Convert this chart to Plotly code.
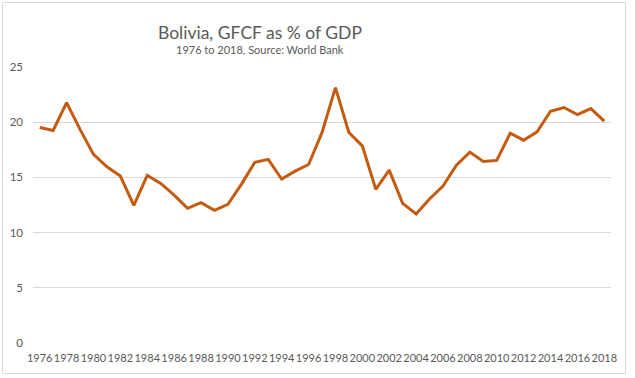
import plotly.graph_objects as go

years = list(range(1976, 2019))
gfcf_pct_gdp = [19.52, 19.25, 21.78, 19.35, 17.08, 15.96, 15.12, 12.47, 15.18, 14.46,
                13.40, 12.20, 12.71, 12.02, 12.56, 14.37, 16.36, 16.63, 14.85, 15.57,
                16.17, 19.05, 23.13, 19.07, 17.86, 13.92, 15.66, 12.65, 11.69, 13.04,
                14.22, 16.11, 17.29, 16.45, 16.54, 19.00, 18.37, 19.13, 20.99, 21.33,
                20.69, 21.23, 20.09]
x_tick_labels = [str(y) for y in range(1976, 2019, 2)]
y_tick_values = [0, 5, 10, 15, 20, 25]

title_text = "Bolivia, GFCF as % of GDP"
subtitle_text = "1976 to 2018, Source: World Bank"

FONT = "Lato"
W, H = 635, 378
ML, MR, MT, MB = 33, 24, 67, 35
pw, ph = W - ML - MR, H - MT - MB

fig = go.Figure()
fig.add_trace(go.Scatter(
    x=years, y=gfcf_pct_gdp, mode="lines",
    line=dict(color="#C55A11", width=3),
    hoverinfo="x+y", showlegend=False,
))

def px_to_paper_x(px):
    return (px - ML) / pw

def px_to_paper_y(py):
    return (H - MB - py) / ph

fig.update_layout(
    width=W, height=H,
    margin=dict(l=ML, r=MR, t=MT, b=MB, pad=0),
    paper_bgcolor="white", plot_bgcolor="white",
    font=dict(family=FONT, color="#595959", size=11),
    xaxis=dict(
        range=[1975.5, 2018.5], tickmode="array",
        tickvals=[int(t) for t in x_tick_labels], ticktext=x_tick_labels,
        showgrid=False, zeroline=False, showline=False, ticks="",
        tickangle=0, automargin=False, ticklabelstandoff=7,
        tickfont=dict(size=11, color="#595959", family=FONT),
    ),
    yaxis=dict(
        range=[0, 25], tickmode="array", tickvals=y_tick_values,
        showgrid=True, gridcolor="#D9D9D9", gridwidth=1,
        zeroline=False, showline=False, ticks="", automargin=False,
        tickfont=dict(size=11.5, color="#595959", family=FONT),
        ticklabelstandoff=9,
    ),
    annotations=[
        dict(text=title_text, x=px_to_paper_x(260), y=px_to_paper_y(32.5),
             xref="paper", yref="paper", xanchor="center", yanchor="middle",
             showarrow=False, font=dict(size=17.5, color="#595959", family=FONT)),
        dict(text=subtitle_text, x=px_to_paper_x(260), y=px_to_paper_y(49.5),
             xref="paper", yref="paper", xanchor="center", yanchor="middle",
             showarrow=False, font=dict(size=11, color="#595959", family=FONT)),
    ],
    shapes=[
        dict(type="rect", xref="paper", yref="paper",
             x0=px_to_paper_x(2.5), x1=px_to_paper_x(625.5),
             y0=px_to_paper_y(373.5), y1=px_to_paper_y(2.5),
             line=dict(color="#D9D9D9", width=1), fillcolor="rgba(0,0,0,0)",
             layer="below"),
    ],
)

fig.write_html("out.html", config={"displayModeBar": False},
               post_script="document.body.style.margin='0';")
